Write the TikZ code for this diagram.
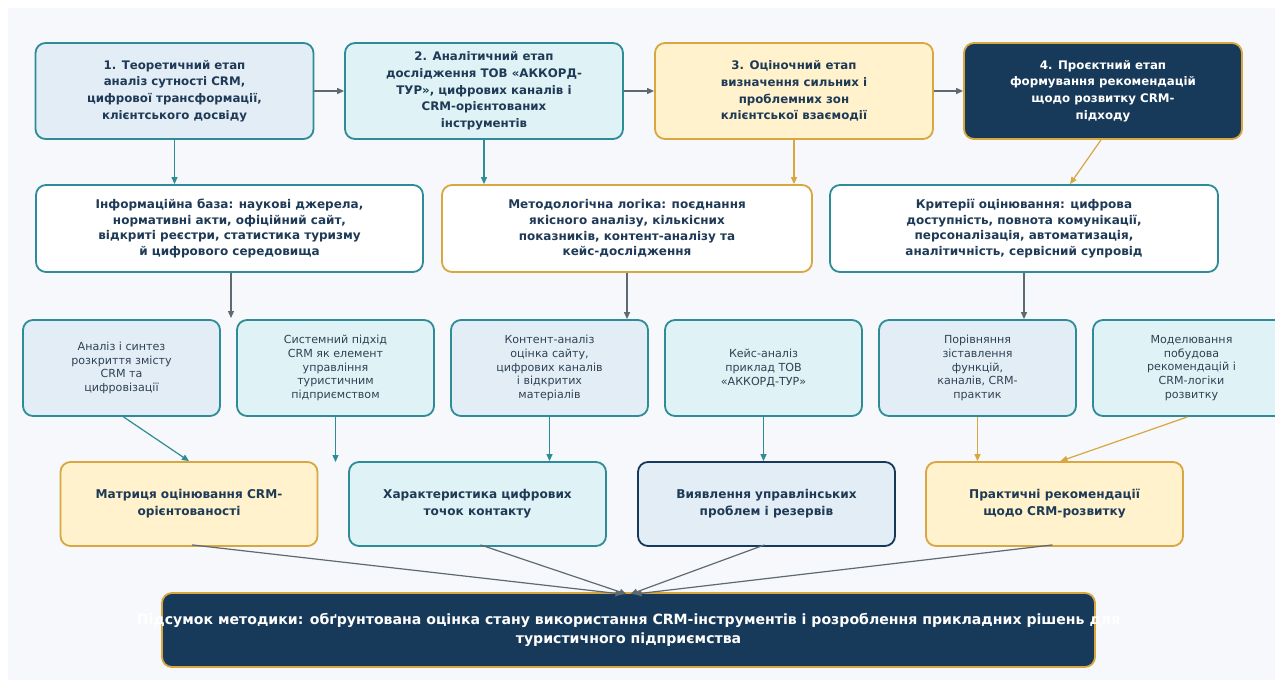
\documentclass[tikz,border=0pt]{standalone}
\usepackage{fontspec}
\setmainfont{DejaVu Sans}
\usetikzlibrary{arrows.meta,calc}
\definecolor{bgc}{HTML}{F6F8FB}
\definecolor{teal1}{HTML}{2D8C97}
\definecolor{gold1}{HTML}{D9A63F}
\definecolor{navy1}{HTML}{183A5A}
\definecolor{txt}{HTML}{1E3A56}
\definecolor{txt2}{HTML}{2E4254}
\definecolor{lblue}{HTML}{E3EDF6}
\definecolor{lcyan}{HTML}{DFF2F5}
\definecolor{cream}{HTML}{FFF2CC}
\definecolor{grayar}{HTML}{5E6A72}
\tikzset{
  box/.style={rounded corners=10pt, line width=1.8pt, align=center, inner sep=0pt, text=txt},
  bigtxt/.style={font=\fontsize{11.8}{16.7}\selectfont\bfseries},
  midtxt/.style={font=\fontsize{12}{15.7}\selectfont\bfseries},
  outtxt/.style={font=\fontsize{12.1}{17}\selectfont\bfseries},
  smalltxt/.style={font=\fontsize{11.1}{13.8}\selectfont, text=txt2},
  toprow/.style={box, bigtxt, minimum width=278pt, minimum height=96pt},
  midrow/.style={box, midtxt, minimum height=87pt, fill=white},
  lowrow/.style={box, smalltxt, minimum width=197pt, minimum height=96pt},
  outrow/.style={box, outtxt, minimum width=257pt, minimum height=84pt},
  tealar/.style={draw=teal1, line width=1.2pt, -{Triangle[length=7pt,width=6pt]}},
  goldar/.style={draw=gold1, line width=1.2pt, -{Triangle[length=7pt,width=6pt]}},
  grayarr/.style={draw=grayar, line width=1.2pt, -{Triangle[length=7pt,width=6pt]}},
}
\begin{document}
\begin{tikzpicture}[x=1pt,y=-1pt]
\useasboundingbox (0,0) rectangle (1275,686);
\fill[white] (0,0) rectangle (1275,686);
\fill[bgc] (8,8) rectangle (1275,680);

% top row
\node[toprow, fill=lblue, draw=teal1] (B1) at (174.5,91) {1. Теоретичний етап\\аналіз сутності CRM,\\цифрової трансформації,\\клієнтського досвіду};
\node[toprow, fill=lcyan, draw=teal1] (B2) at (484,91) {2. Аналітичний етап\\дослідження ТОВ «АККОРД-\\ТУР», цифрових каналів і\\CRM-орієнтованих\\інструментів};
\node[toprow, fill=cream, draw=gold1] (B3) at (794,91) {3. Оціночний етап\\визначення сильних і\\проблемних зон\\клієнтської взаємодії};
\node[toprow, fill=navy1, draw=gold1, text=white] (B4) at (1103,91) {4. Проєктний етап\\формування рекомендацій\\щодо розвитку CRM-\\підходу};

% second row
\node[midrow, draw=teal1, minimum width=387pt] (C1) at (229.5,228.5) {Інформаційна база: наукові джерела,\\нормативні акти, офіційний сайт,\\відкриті реєстри, статистика туризму\\й цифрового середовища};
\node[midrow, draw=gold1, minimum width=370pt] (C2) at (627,228.5) {Методологічна логіка: поєднання\\якісного аналізу, кількісних\\показників, контент-аналізу та\\кейс-дослідження};
\node[midrow, draw=teal1, minimum width=388pt] (C3) at (1024,228.5) {Критерії оцінювання: цифрова\\доступність, повнота комунікації,\\персоналізація, автоматизація,\\аналітичність, сервісний супровід};

% third row
\node[lowrow, fill=lblue, draw=teal1] (D1) at (121.5,368) {Аналіз і синтез\\розкриття змісту\\CRM та\\цифровізації};
\node[lowrow, fill=lcyan, draw=teal1] (D2) at (335.5,368) {Системний підхід\\CRM як елемент\\управління\\туристичним\\підприємством};
\node[lowrow, fill=lblue, draw=teal1] (D3) at (549.5,368) {Контент-аналіз\\оцінка сайту,\\цифрових каналів\\і відкритих\\матеріалів};
\node[lowrow, fill=lcyan, draw=teal1] (D4) at (763.5,368) {Кейс-аналіз\\приклад ТОВ\\«АККОРД-ТУР»};
\node[lowrow, fill=lblue, draw=teal1] (D5) at (977.5,368) {Порівняння\\зіставлення\\функцій,\\каналів, CRM-\\практик};
\node[lowrow, fill=lcyan, draw=teal1] (D6) at (1191.5,368) {Моделювання\\побудова\\рекомендацій і\\CRM-логіки\\розвитку};

% fourth row
\node[outrow, fill=cream, draw=gold1] (E1) at (189,504) {Матриця оцінювання CRM-\\орієнтованості};
\node[outrow, fill=lcyan, draw=teal1] (E2) at (477.5,504) {Характеристика цифрових\\точок контакту};
\node[outrow, fill=lblue, draw=navy1] (E3) at (766.5,504) {Виявлення управлінських\\проблем і резервів};
\node[outrow, fill=cream, draw=gold1] (E4) at (1054.5,504) {Практичні рекомендації\\щодо CRM-розвитку};

% final
\node[box, fill=navy1, draw=gold1, text=white, minimum width=933pt, minimum height=74pt, font=\fontsize{14.1}{18.5}\selectfont\bfseries] (F) at (628.5,630) {\makebox[0pt][c]{Підсумок методики: обґрунтована оцінка стану використання CRM-інструментів і розроблення прикладних рішень для}\\туристичного підприємства};

% connectors top row
\draw[grayarr] (B1) -- (B2);
\draw[grayarr] (B2) -- (B3);
\draw[grayarr] (B3) -- (B4);

\draw[tealar] (B1.south) -- (B1.south |- C1.north);
\draw[tealar] (B2.south) -- (B2.south |- C2.north);
\draw[goldar] (B3.south) -- (B3.south |- C3.north);
\draw[goldar] ($(B4.south)+(-2,0)$) -- ($(C3.north)+(46,0)$);

\coordinate (g1) at (231,318);
\coordinate (g2) at (335.5,462);
\draw[grayarr] ($(C1.south)+(1.5,0)$) -- (g1);
\draw[grayarr] (C2.south) -- (C2.south |- D3.north);
\draw[grayarr] (C3.south) -- (C3.south |- D5.north);

\draw[tealar] ($(D1.south)+(2,0)$) -- (E1.north);
\draw[tealar] (D2.south) -- (g2);
\draw[tealar] (D3.south) -- (D3.south |- E2.north);
\draw[tealar] (D4.south) -- (D4.south |- E3.north);
\draw[goldar] (D5.south) -- (D5.south |- E4.north);
\draw[goldar] ($(D6.south)+(-4,0)$) -- ($(E4.north)+(6,0)$);

\draw[grayarr] ($(E1.south)+(3,-2)$) -- ($(F.north)+(-6,2)$);
\draw[grayarr] ($(E2.south)+(3,-2)$) -- ($(F.north)+(-2,2)$);
\draw[grayarr] ($(E3.south)+(-2,-2)$) -- ($(F.north)+(2,2)$);
\draw[grayarr] ($(E4.south)+(-2,-2)$) -- ($(F.north)+(6,2)$);
\end{tikzpicture}
\end{document}
